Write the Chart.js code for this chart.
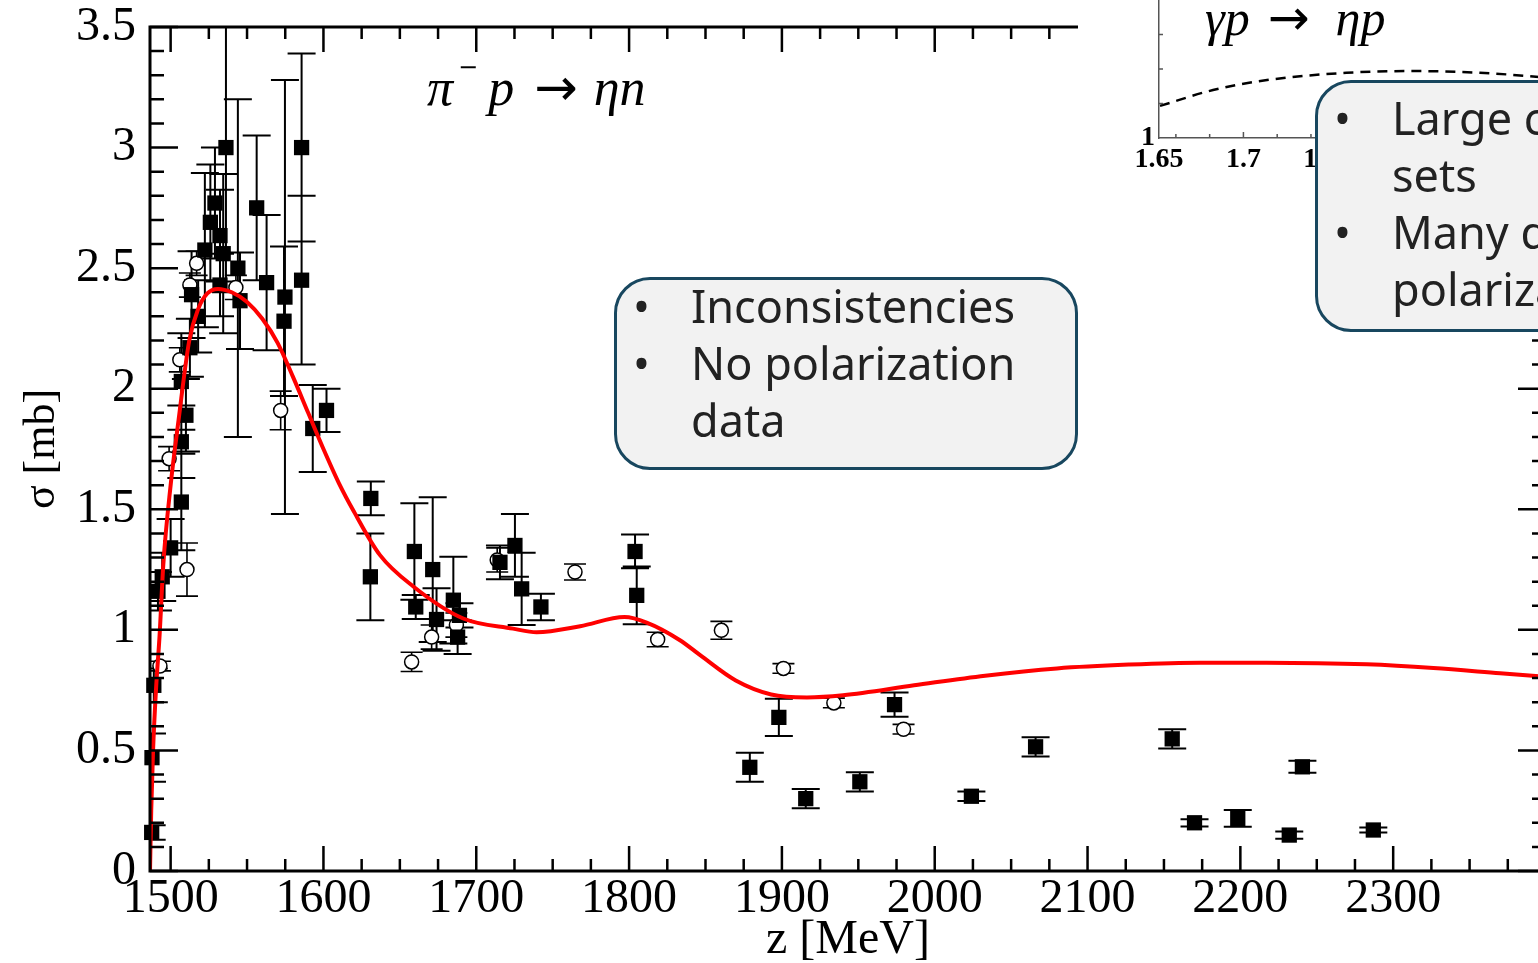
<!DOCTYPE html>
<html>
<head>
<meta charset="utf-8">
<title>pi- p -> eta n cross section</title>
<script src="https://cdn.jsdelivr.net/npm/chart.js@4.4.1/dist/chart.umd.min.js"></script>
<style>
    html, body {
        margin: 0;
        padding: 0;
        width: 1538px;
        height: 963px;
        overflow: hidden;
        background: #fff;
    }
    #main-wrap { position: absolute; left: 0; top: 0; }
    #inset-wrap {
        position: absolute;
        left: 1078px;
        top: 0;
        width: 520px;
        height: 178px;
        background: #fff;
    }
    .math {
        position: absolute;
        font-family: 'Liberation Serif', serif;
        font-style: italic;
        color: #000;
        white-space: nowrap;
    }
    .math span, .math sup { line-height: 0; }
    .math .arrow { font-family: 'DejaVu Sans', sans-serif; font-style: normal; }
    .math sup {
        font-family: 'DejaVu Sans', sans-serif;
        font-size: 24px;
        font-style: normal;
        vertical-align: baseline;
        position: relative;
        top: -30px;
        margin: 0 10px 0 5px;
    }
    .note {
        position: absolute;
        box-sizing: border-box;
        border: 3px solid #18475f;
        border-radius: 36px;
        background: #f2f2f2;
        font-family: 'Noto Sans', sans-serif;
        font-size: 45px;
        line-height: 57px;
        color: #222;
        white-space: nowrap;
    }
    .note .item { position: relative; padding-left: 74px; }
    .note .bullet { position: absolute; left: 16px; top: 0; }
</style>
</head>
<body>

<div id="main-wrap"><canvas id="xsec-chart" width="1580" height="990"></canvas></div>

<div class="math" style="left:427px; top:62px; font-size:52px; line-height:52px;">π<sup>−</sup>p<span class="arrow" style="margin:0 16px 0 20px;">→</span>ηn</div>

<div id="inset-wrap">
    <canvas id="inset-chart" width="520" height="178"></canvas>
    <div class="math" style="left:127px; top:-7px; font-size:50px; line-height:50px;">γp<span class="arrow" style="margin:0 26px 0 18px;">→</span>ηp</div>
</div>

<div class="note" style="left:614px; top:277px; width:464px; height:193px;">
    <div style="margin-top:-3px;">
        <div class="item"><span class="bullet">•</span>Inconsistencies</div>
        <div class="item"><span class="bullet">•</span>No polarization<br>data</div>
    </div>
</div>

<div class="note" style="left:1315px; top:80px; width:330px; height:252px; padding-top:6px;">
    <div class="item"><span class="bullet">•</span>Large consistent data<br>sets</div>
    <div class="item"><span class="bullet">•</span>Many double<br>polarization data</div>
</div>

<script>
// Filled squares: energy [MeV], cross section [mb], error [mb]
const sqX = [1487.6, 1487.8, 1489.0, 1491.7, 1494.5, 1500.0, 1507.0, 1507.0, 1510.0, 1507.0,
             1512.6, 1518.0, 1513.7, 1522.4, 1526.0, 1529.0, 1532.3, 1534.4, 1532.3, 1536.2,
             1544.0, 1545.4, 1556.3, 1562.8, 1574.8, 1574.2, 1585.7, 1585.7, 1593.0, 1602.0,
             1631.0, 1630.7, 1659.5, 1660.4, 1671.5, 1674.0, 1685.0, 1687.8, 1689.0, 1715.5,
             1725.3, 1729.7, 1742.3, 1803.9, 1805.0, 1879.0, 1898.0, 1915.6, 1951.0, 1973.7,
             2024.0, 2066.0, 2155.4, 2170.0, 2198.3, 2232.0, 2240.6, 2287.0];
const sqY = [0.16, 0.47, 0.77, 1.16, 1.22, 1.34, 1.53, 1.78, 1.89, 2.03,
             2.17, 2.30, 2.39, 2.575, 2.69, 2.77, 2.635, 2.56, 2.43, 3.00,
             2.50, 2.365, 2.75, 2.44, 2.38, 2.28, 3.00, 2.45, 1.835, 1.91,
             1.545, 1.22, 1.325, 1.095, 1.25, 1.043, 1.123, 0.97, 1.06, 1.28,
             1.35, 1.17, 1.095, 1.325, 1.143, 0.43, 0.637, 0.30, 0.37, 0.69,
             0.31, 0.515, 0.548, 0.20, 0.218, 0.149, 0.432, 0.17];
const sqErr = [0.03, 0.10, 0.07, 0.08, 0.10, 0.12, 0.20, 0.15, 0.15, 0.20,
               0.12, 0.15, 0.18, 0.32, 0.24, 0.23, 0.19, 0.33, 0.13, 0.60,
               0.70, 0.20, 0.30, 0.28, 0.90, 0.31, 0.39, 0.35, 0.18, 0.09,
               0.07, 0.18, 0.20, 0.05, 0.30, 0.13, 0.18, 0.07, 0.05, 0.07,
               0.13, 0.15, 0.055, 0.07, 0.12, 0.06, 0.077, 0.04, 0.04, 0.05,
               0.02, 0.04, 0.04, 0.015, 0.035, 0.015, 0.025, 0.01];

// Open circles
const ocX = [1493.0, 1499.0, 1506.0, 1510.7, 1512.6, 1517.0, 1542.7, 1572.0, 1657.7, 1670.8,
             1687.0, 1713.7, 1764.6, 1818.7, 1860.4, 1901.0, 1934.0, 1979.6];
const ocY = [0.85, 1.71, 2.12, 1.25, 2.43, 2.52, 2.42, 1.91, 0.867, 0.97,
             1.02, 1.29, 1.24, 0.96, 0.998, 0.84, 0.697, 0.588];
const ocErr = [0.02, 0.05, 0.05, 0.11, 0.05, 0.05, 0.05, 0.08, 0.04, 0.05,
               0.05, 0.05, 0.033, 0.03, 0.037, 0.02, 0.02, 0.02];

// Model curve (red)
const curveX = [1486.5, 1487.3, 1488.5, 1490.5, 1492.8, 1495.2, 1500.0, 1505.2, 1512.2, 1518.0,
                1524.0, 1531.0, 1540.0, 1550.0, 1560.0, 1570.0, 1580.0, 1590.0, 1600.0, 1610.0,
                1620.0, 1637.0, 1658.8, 1691.5, 1724.0, 1739.5, 1768.0, 1797.0, 1811.5, 1833.3,
                1846.5, 1869.8, 1893.0, 1916.4, 1940.0, 1986.5, 2033.0, 2080.0, 2127.0, 2173.6,
                2217.0, 2282.7, 2326.3, 2370.0, 2400.0];
const curveY = [0.00, 0.25, 0.50, 0.76, 0.98, 1.27, 1.60, 1.87, 2.20, 2.33,
                2.395, 2.414, 2.40, 2.36, 2.29, 2.19, 2.05, 1.90, 1.75, 1.61,
                1.49, 1.31, 1.18, 1.047, 1.005, 0.99, 1.015, 1.053, 1.03, 0.957,
                0.895, 0.79, 0.732, 0.72, 0.729, 0.77, 0.81, 0.84, 0.856, 0.864,
                0.864, 0.857, 0.842, 0.82, 0.805];

// Inset (gamma p -> eta p), dashed curve
const insetX = [1.6506, 1.682, 1.714, 1.761, 1.80, 1.84, 1.875, 1.91];
const insetY = [1.093, 1.139, 1.168, 1.189, 1.194, 1.189, 1.177, 1.16];

// Axis ranges
const X_MIN = 1486.5, X_MAX = 2400;
const Y_MIN = 0, Y_MAX = 3.5;

const serif = 'Liberation Serif';

/**
 * Draw vertical error bars with caps
 */
function drawErrorBars(ctx, xScale, yScale, xs, ys, errs, capHalf, width) {
    ctx.strokeStyle = '#000';
    ctx.lineWidth = width;
    ctx.beginPath();
    xs.forEach((x, i) => {
        const px = xScale.getPixelForValue(x);
        const top = yScale.getPixelForValue(ys[i] + errs[i]);
        const bot = yScale.getPixelForValue(ys[i] - errs[i]);
        ctx.moveTo(px, top);
        ctx.lineTo(px, bot);
        ctx.moveTo(px - capHalf, top);
        ctx.lineTo(px + capHalf, top);
        ctx.moveTo(px - capHalf, bot);
        ctx.lineTo(px + capHalf, bot);
    });
    ctx.stroke();
}

/**
 * Error bars under the markers, frame and inward ticks on top
 */
const framePlugin = {
    id: 'frame',
    beforeDatasetsDraw(chart) {
        const ctx = chart.ctx;
        const area = chart.chartArea;
        ctx.save();
        ctx.beginPath();
        ctx.rect(area.left, area.top, area.right - area.left, area.bottom - area.top);
        ctx.clip();
        drawErrorBars(ctx, chart.scales.x, chart.scales.y, sqX, sqY, sqErr, 14, 2);
        drawErrorBars(ctx, chart.scales.x, chart.scales.y, ocX, ocY, ocErr, 11, 1.6);
        ctx.restore();
    },
    afterDatasetsDraw(chart) {
        const ctx = chart.ctx;
        const area = chart.chartArea;
        const xs = chart.scales.x;
        const ys = chart.scales.y;
        ctx.save();
        ctx.strokeStyle = '#000';

        // ticks along x (every 25 MeV, major every 100)
        ctx.lineWidth = 2.5;
        ctx.beginPath();
        for (let v = Math.ceil(X_MIN / 25) * 25; v <= X_MAX; v += 25) {
            const px = xs.getPixelForValue(v);
            const major = v % 100 === 0;
            ctx.moveTo(px, area.bottom);
            ctx.lineTo(px, area.bottom - (major ? 25 : 12));
            ctx.moveTo(px, area.top);
            ctx.lineTo(px, area.top + (major ? 25 : 12));
        }
        // ticks along y (every 0.1, major every 0.5)
        for (let k = 0; k <= 35; k++) {
            const py = ys.getPixelForValue(k / 10);
            const major = k % 5 === 0;
            ctx.moveTo(area.left, py);
            ctx.lineTo(area.left + (major ? 28 : 14), py);
            ctx.moveTo(area.right, py);
            ctx.lineTo(area.right - (major ? 28 : 14), py);
        }
        ctx.stroke();

        // frame
        ctx.lineWidth = 3;
        ctx.strokeRect(area.left, area.top, area.right - area.left, area.bottom - area.top);
        ctx.restore();
    }
};

/**
 * Main chart
 */
function createMainChart() {
    const canvas = document.getElementById('xsec-chart');

    new Chart(canvas, {
        type: 'scatter',
        data: {
            datasets: [{
                type: 'line',
                label: 'Model',
                data: curveX.map((x, i) => ({ x: x, y: curveY[i] })),
                borderColor: '#ff0000',
                borderWidth: 4,
                pointRadius: 0,
                cubicInterpolationMode: 'monotone',
                fill: false,
                order: 0
            }, {
                label: 'Data (filled)',
                data: sqX.map((x, i) => ({ x: x, y: sqY[i] })),
                pointStyle: 'rect',
                pointRadius: 10.8,
                backgroundColor: '#000',
                borderWidth: 0,
                clip: false,
                order: 1
            }, {
                label: 'Data (open)',
                data: ocX.map((x, i) => ({ x: x, y: ocY[i] })),
                pointStyle: 'circle',
                pointRadius: 7,
                backgroundColor: '#fff',
                borderColor: '#000',
                borderWidth: 1.5,
                clip: false,
                order: 2
            }]
        },
        options: {
            responsive: false,
            animation: false,
            layout: { padding: { left: 0, top: 27, right: 34, bottom: 0 } },
            plugins: {
                legend: { display: false },
                tooltip: { enabled: false }
            },
            scales: {
                x: {
                    type: 'linear',
                    min: X_MIN,
                    max: X_MAX,
                    grid: { display: false, drawTicks: false },
                    border: { display: false },
                    ticks: {
                        stepSize: 100,
                        includeBounds: false,
                        padding: 0,
                        maxRotation: 0,
                        autoSkip: false,
                        color: '#000',
                        font: { family: serif, size: 48 },
                        callback: v => (v >= 2400 ? '' : String(v))
                    },
                    title: {
                        display: true,
                        text: 'z [MeV]',
                        color: '#000',
                        font: { family: serif, size: 48 },
                        padding: { top: 0, bottom: 21 }
                    },
                    afterFit: scale => {
                        scale.height = 119;
                        scale.paddingLeft = 0;
                        scale.paddingRight = 0;
                    }
                },
                y: {
                    type: 'linear',
                    min: Y_MIN,
                    max: Y_MAX,
                    grid: { display: false, drawTicks: false },
                    border: { display: false },
                    ticks: {
                        stepSize: 0.5,
                        padding: 14,
                        color: '#000',
                        font: { family: serif, size: 48 },
                        callback: v => String(Math.round(v * 10) / 10)
                    },
                    title: {
                        display: true,
                        text: 'σ [mb]',
                        color: '#000',
                        font: { family: serif, size: 44 },
                        padding: { top: 16, bottom: 0 }
                    },
                    afterFit: scale => {
                        scale.width = 150;
                        scale.paddingTop = 0;
                        scale.paddingBottom = 0;
                    }
                }
            }
        },
        plugins: [framePlugin]
    });
}

/**
 * Inset ticks (small, inward)
 */
const insetTickPlugin = {
    id: 'insetTicks',
    afterDatasetsDraw(chart) {
        const ctx = chart.ctx;
        const area = chart.chartArea;
        const xs = chart.scales.x;
        const ys = chart.scales.y;
        ctx.save();
        ctx.strokeStyle = '#555';
        ctx.lineWidth = 1.5;
        ctx.beginPath();
        for (let k = 83; k <= 95; k++) {
            const px = xs.getPixelForValue(k * 0.02);
            ctx.moveTo(px, area.bottom);
            ctx.lineTo(px, area.bottom - (k % 5 === 0 ? 6 : 4));
        }
        for (let k = 11; k <= 13; k++) {
            const py = ys.getPixelForValue(k / 10);
            ctx.moveTo(area.left, py);
            ctx.lineTo(area.left + 4, py);
        }
        ctx.stroke();
        ctx.restore();
    }
};

/**
 * Inset chart
 */
function createInsetChart() {
    const canvas = document.getElementById('inset-chart');

    new Chart(canvas, {
        type: 'line',
        data: {
            datasets: [{
                label: 'gamma p',
                data: insetX.map((x, i) => ({ x: x, y: insetY[i] })),
                borderColor: '#000',
                borderWidth: 2.5,
                borderDash: [10, 7],
                pointRadius: 0,
                cubicInterpolationMode: 'monotone',
                fill: false
            }]
        },
        options: {
            responsive: false,
            animation: false,
            layout: { padding: 0 },
            plugins: {
                legend: { display: false },
                tooltip: { enabled: false }
            },
            scales: {
                x: {
                    type: 'linear',
                    min: 1.65,
                    max: 1.91,
                    grid: { display: false, drawTicks: false },
                    border: { display: true, color: '#555', width: 1.5 },
                    ticks: {
                        stepSize: 0.05,
                        includeBounds: false,
                        padding: 5,
                        maxRotation: 0,
                        autoSkip: false,
                        color: '#000',
                        font: { family: serif, size: 28, weight: 'bold' },
                        callback: v => String(Math.round(v * 100) / 100)
                    },
                    afterFit: scale => {
                        scale.height = 40;
                        scale.paddingLeft = 0;
                        scale.paddingRight = 0;
                    }
                },
                y: {
                    type: 'linear',
                    min: 1,
                    max: 1.4,
                    grid: { display: false, drawTicks: false },
                    border: { display: true, color: '#555', width: 1.5 },
                    ticks: {
                        stepSize: 0.1,
                        padding: 4,
                        color: '#000',
                        font: { family: serif, size: 28, weight: 'bold' },
                        callback: v => (Math.abs(v - 1) < 1e-6 ? '1' : '')
                    },
                    afterFit: scale => {
                        scale.width = 81;
                        scale.paddingTop = 0;
                        scale.paddingBottom = 0;
                    }
                }
            }
        },
        plugins: [insetTickPlugin]
    });
}

createMainChart();
createInsetChart();
</script>
</body>
</html>
